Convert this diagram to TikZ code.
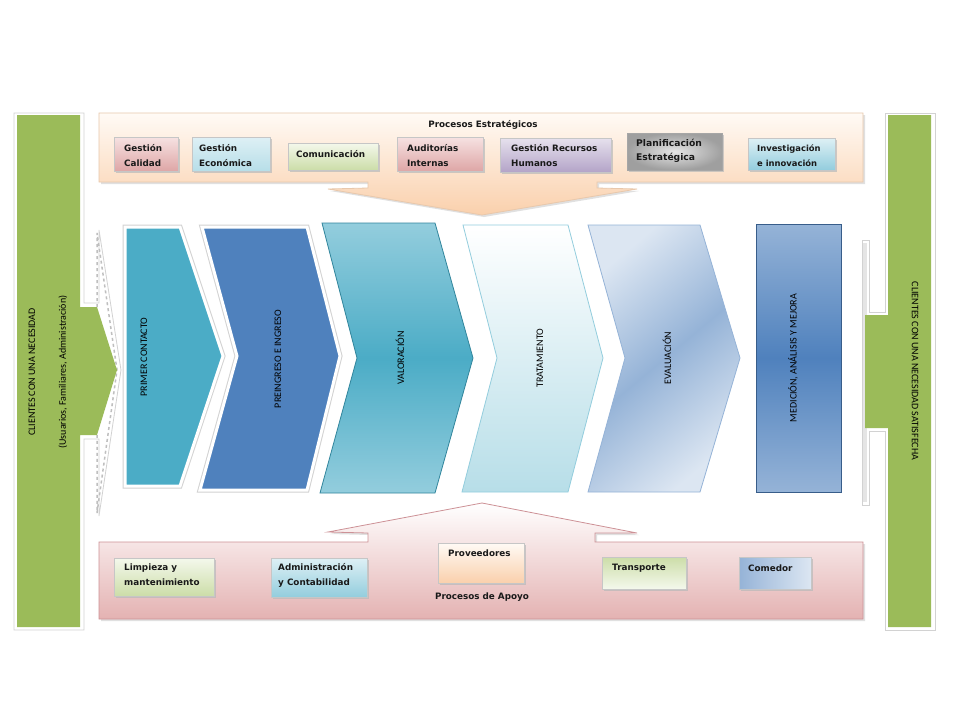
\documentclass[tikz,border=0pt]{standalone}
\usepackage{fontspec}
\setmainfont{DejaVu Sans}
\newfontfamily\calib{Carlito}
\usetikzlibrary{shadows}
\definecolor{leaf}{RGB}{155, 187, 89}
\definecolor{peachhi}{RGB}{255, 250, 245}
\definecolor{peachlo}{RGB}{250, 208, 172}
\definecolor{peachline}{RGB}{232, 200, 172}
\definecolor{roselo}{RGB}{228, 178, 178}
\definecolor{roseline}{RGB}{205, 145, 150}
\definecolor{aqua}{RGB}{75, 172, 198}
\definecolor{aqualt}{RGB}{147, 205, 221}
\definecolor{aquadk}{RGB}{49, 133, 156}
\definecolor{steel}{RGB}{79, 129, 189}
\definecolor{steellt}{RGB}{149, 179, 215}
\definecolor{steeldk}{RGB}{56, 93, 138}
\definecolor{mist}{RGB}{220, 230, 242}
\definecolor{ice}{RGB}{183, 222, 232}
\definecolor{icehi}{RGB}{222, 240, 245}
\definecolor{pinkhi}{RGB}{246, 226, 226}
\definecolor{pinklo}{RGB}{222, 166, 166}
\definecolor{lilachi}{RGB}{230, 225, 237}
\definecolor{lilaclo}{RGB}{180, 164, 200}
\definecolor{sagehi}{RGB}{244, 248, 236}
\definecolor{sagelo}{RGB}{204, 221, 168}

\begin{document}
\begin{tikzpicture}[x=1pt, y=-1pt,
  procbox/.style={draw=gray!45, line width=0.6pt,
    drop shadow={shadow xshift=1.5pt, shadow yshift=-1.5pt, fill=gray!55, opacity=0.7}},
  boxtext/.style={font=\fontsize{8.8}{15}\selectfont\bfseries, text=black!90,
    align=left, anchor=west, inner sep=0pt},
  steptext/.style={font=\calib\fontsize{10}{12}\selectfont, rotate=90, inner sep=0pt},
  edged/.style={draw=white, line width=3pt, preaction={draw=gray!35, line width=5pt}}]
  \useasboundingbox[fill=white] (0,0) rectangle (960,720);

  % Clientes (entrada)
  \draw[fill=white, draw=gray!35, line width=0.8pt] (14,113) -- (84,113) -- (84,303) -- (99,303)
    -- (99,230) -- (121,370) -- (99,516) -- (99,439) -- (84,439) -- (84,630) -- (14,630) -- cycle;
  \draw[gray!50, dashed, line width=1.5pt] (97,307) -- (97,233) -- (117,370) -- (97,513) -- (97,435);
  \fill[leaf] (17,115) -- (80,115) -- (80,307) -- (97,307) -- (117,370) -- (97,435)
    -- (80,435) -- (80,627) -- (17,627) -- cycle;
  \node[steptext] (cin) at (32,372) {CLIENTES CON UNA NECESIDAD};
  \node[steptext] (cwho) at (63,372) {(Usuarios, Familiares, Administración)};

  % Clientes (salida)
  \draw[fill=white, draw=gray!35, line width=0.8pt] (885,113) -- (935,113) -- (935,630) -- (885,630)
    -- (885,431) -- (869,431) -- (869,505) -- (862,505) -- (862,240) -- (869,240) -- (869,312)
    -- (885,312) -- cycle;
  \fill[gray!20] (863,243) rectangle (867,502);
  \fill[leaf] (888,115) -- (931,115) -- (931,627) -- (888,627) -- (888,428) -- (865,428)
    -- (865,315) -- (888,315) -- cycle;
  \node[steptext, rotate=-180] (cout) at (915,371) {CLIENTES CON UNA NECESIDAD SATISFECHA};

  % Procesos estrategicos
  \draw[draw=peachline, line width=0.8pt, top color=peachhi, bottom color=peachlo,
    drop shadow={shadow xshift=2pt, shadow yshift=-2pt, fill=gray!40, opacity=0.6}]
    (99,113) -- (863,113) -- (863,182) -- (597,182) -- (597,188) -- (637,189) -- (482,215)
    -- (328,189) -- (368,188) -- (368,182) -- (99,182) -- cycle;
  \node[boxtext, anchor=center] (strat) at (483,125) {Procesos Estratégicos};

  \draw[procbox, top color=pinkhi, bottom color=pinklo] (114,137) rectangle (178,171);
  \node[boxtext] (calidad) at (124,155.5) {Gestión\\Calidad};
  \draw[procbox, top color=icehi, bottom color=ice] (192,137) rectangle (270,171);
  \node[boxtext] (economica) at (199,155.5) {Gestión\\Económica};
  \draw[procbox, top color=sagehi, bottom color=sagelo] (288,143) rectangle (378,170);
  \node[boxtext] (comunic) at (296,154) {Comunicación};
  \draw[procbox, top color=pinkhi, bottom color=pinklo] (397,137) rectangle (483,171);
  \node[boxtext] (auditor) at (407,155.5) {Auditorías\\Internas};
  \draw[procbox, top color=lilachi, bottom color=lilaclo] (500,138) rectangle (611,172);
  \node[boxtext] (rrhh) at (511,156) {Gestión Recursos\\Humanos};
  \draw[procbox, draw=gray!70, inner color=gray!20, outer color=gray!75] (627,133) rectangle (722,170);
  \node[boxtext, font=\fontsize{9.2}{14}\selectfont\bfseries] (planif) at (636,151) {Planificación\\Estratégica};
  \draw[procbox, top color=icehi, bottom color=aqualt] (748,138) rectangle (835,170);
  \node[boxtext, font=\fontsize{8.4}{15}\selectfont\bfseries] (investig) at (757,155.5) {Investigación\\e innovación};

  % Cadena de procesos
  \draw[edged, fill=steel] (202,227) -- (307,227) -- (340,356) -- (307,490) -- (200,490) -- (237,356) -- cycle;
  \draw[edged, fill=aqua] (125,227) -- (180,227) -- (223,356) -- (180,486) -- (125,486) -- cycle;
  \draw[draw=aquadk, line width=0.8pt, top color=aqualt, bottom color=aqualt, middle color=aqua]
    (322,223) -- (435,223) -- (473,358) -- (435,493) -- (320,493) -- (357,358) -- cycle;
  \draw[draw=aqualt, line width=0.8pt, top color=white, bottom color=ice]
    (463,225) -- (568,225) -- (603,358) -- (568,492) -- (462,492) -- (497,358) -- cycle;
  \draw[draw=steellt, line width=0.8pt, top color=mist, bottom color=mist, middle color=steellt,
    shading angle=40]
    (588,225) -- (700,225) -- (740,358) -- (700,492) -- (588,492) -- (625,358) -- cycle;
  \draw[draw=steeldk, line width=0.8pt, top color=steellt, bottom color=steellt, middle color=steel]
    (756,224) rectangle (841,492);

  \foreach \x/\y/\txt [count=\i] in {144/357/PRIMER CONTACTO, 278/359/PREINGRESO E INGRESO,
      400/358/VALORACIÓN, 540/358/TRATAMIENTO, 667/358/EVALUACIÓN,
      793/358/{MEDICIÓN, ANÁLISIS Y MEJORA}} {
    \node[steptext] (step\i) at (\x,\y) {\txt};
  }

  % Procesos de apoyo
  \draw[draw=roseline, line width=0.8pt, top color=white, bottom color=roselo,
    drop shadow={shadow xshift=2pt, shadow yshift=-2pt, fill=gray!40, opacity=0.6}]
    (99,542) -- (368,542) -- (368,533) -- (328,532) -- (482,503) -- (637,533) -- (595,533)
    -- (595,542) -- (863,542) -- (863,619) -- (99,619) -- cycle;
  \node[boxtext, anchor=center] (apoyo) at (482,597) {Procesos de Apoyo};

  \draw[procbox, top color=sagehi, bottom color=sagelo] (114,558) rectangle (214,596);
  \node[boxtext] (limpieza) at (124,575) {Limpieza y\\mantenimiento};
  \draw[procbox, top color=icehi, bottom color=aqualt] (271,558) rectangle (367,597);
  \node[boxtext] (contab) at (278,575) {Administración\\y Contabilidad};
  \draw[procbox, top color=peachhi, bottom color=peachlo] (438,543) rectangle (524,583);
  \node[boxtext] (provee) at (448,553) {Proveedores};
  \draw[procbox, top color=sagelo, bottom color=sagehi] (602,557) rectangle (686,589);
  \node[boxtext] (transp) at (612,568) {Transporte};
  \draw[procbox, left color=steellt, right color=mist] (739,557) rectangle (811,589);
  \node[boxtext] (comedor) at (748,568) {Comedor};
\end{tikzpicture}
\end{document}
